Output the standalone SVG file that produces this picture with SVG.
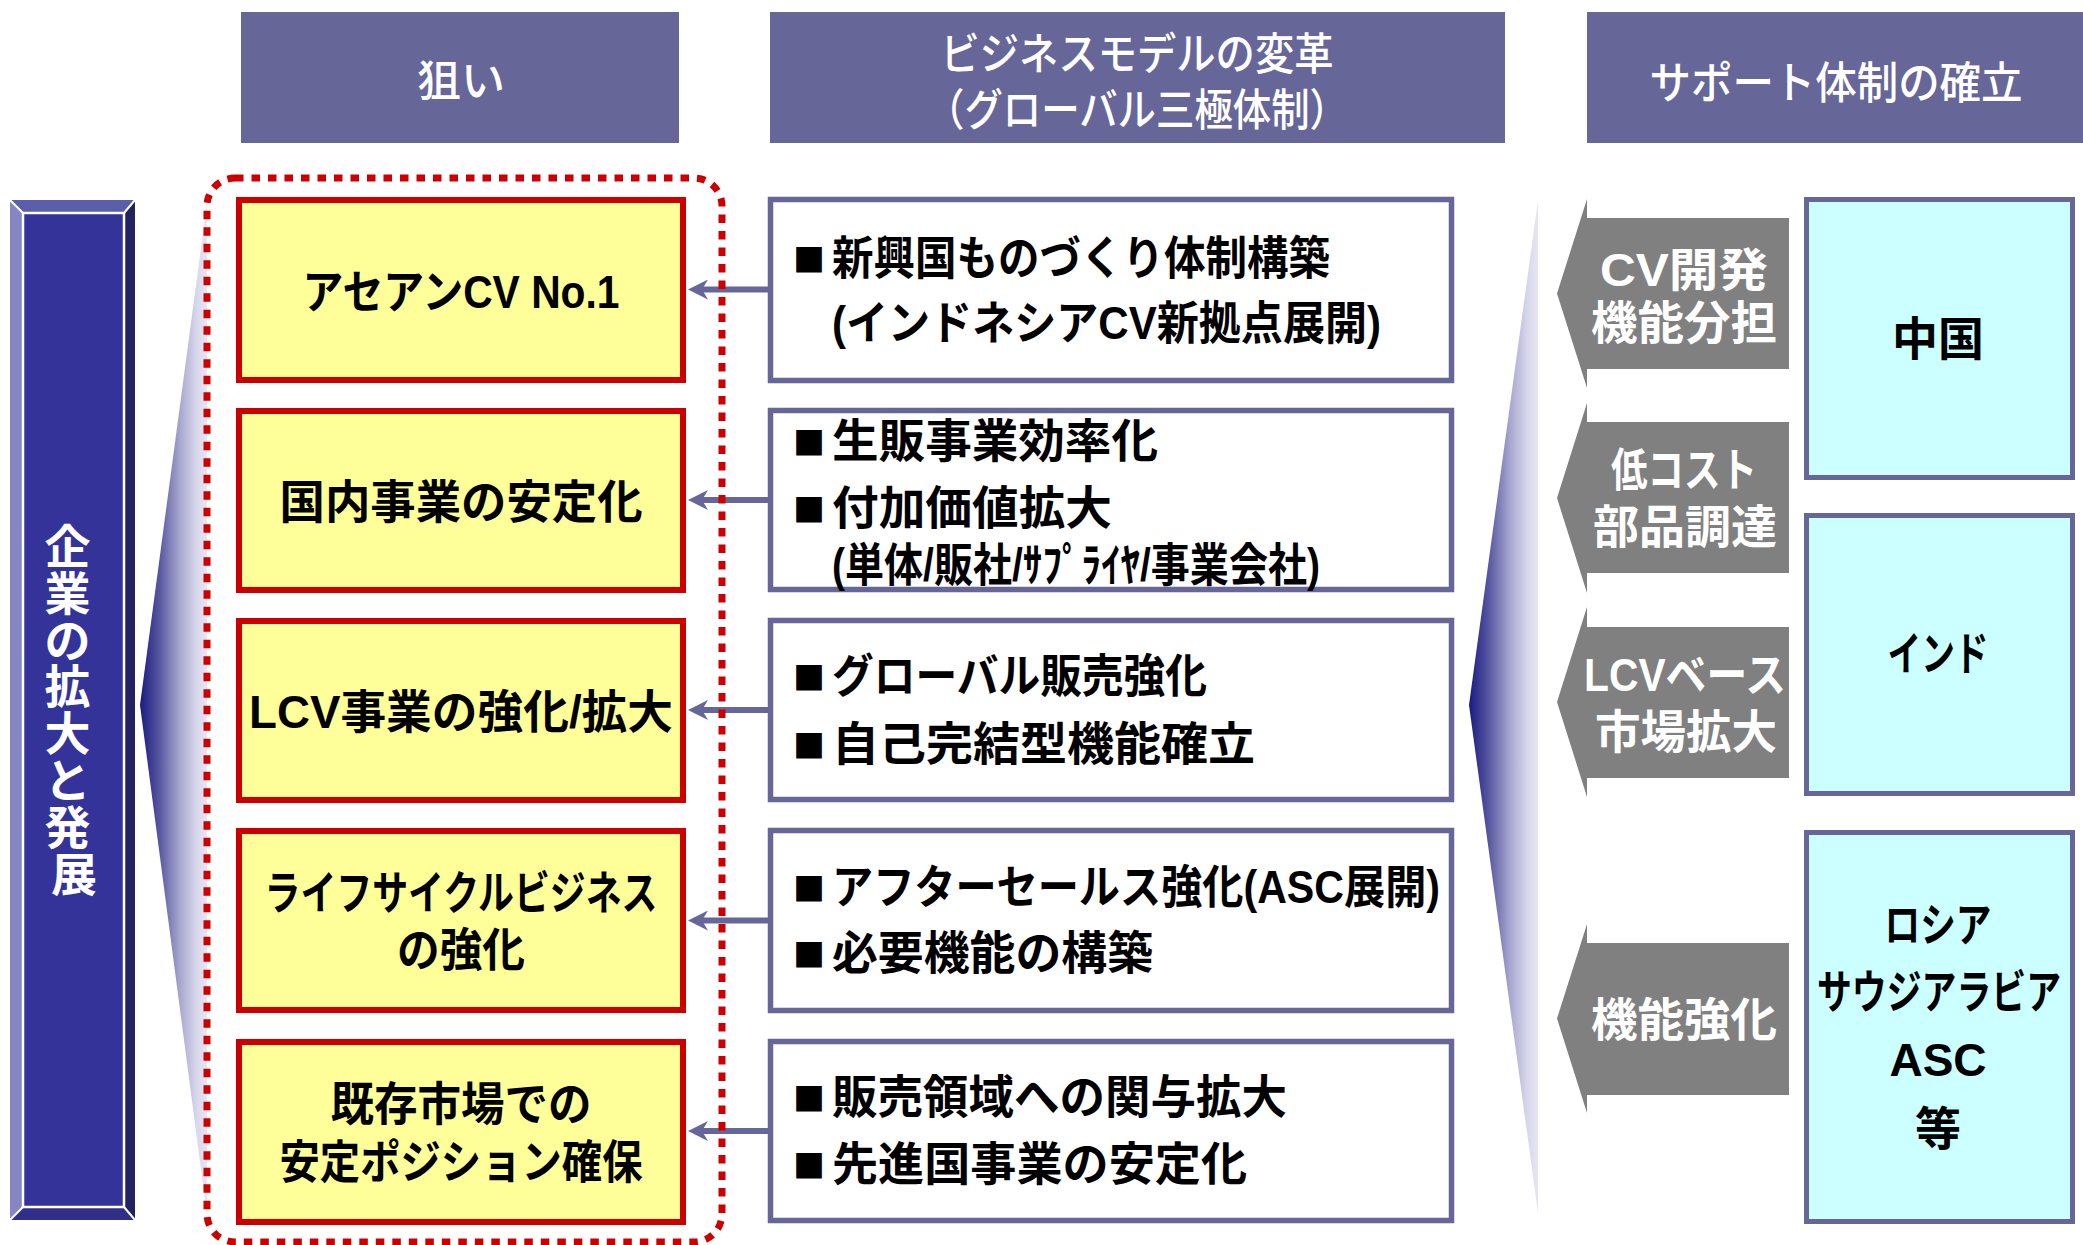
<svg xmlns="http://www.w3.org/2000/svg" width="2083" height="1245" viewBox="0 0 2083 1245">
<defs>
<style>
.hdr{fill:#666699}
.ht{fill:#fff;font-family:"Noto Sans CJK JP","Liberation Sans",sans-serif;font-weight:500;font-size:44px;text-anchor:middle;dominant-baseline:central}
.yb{fill:#ffff99;stroke:#cc0000;stroke-width:6}
.mb{fill:#fff;stroke:#666699;stroke-width:5.5}
.cb{fill:#ccffff;stroke:#666699;stroke-width:5}
.ga{fill:#808080}
.t{font-family:"Liberation Sans","Noto Sans CJK JP",sans-serif;font-weight:700;font-size:46px;dominant-baseline:central;fill:#000}
.sq{font-family:"Noto Sans CJK JP",sans-serif;font-size:32px;dominant-baseline:central;fill:#000}
.c{text-anchor:middle}
.w{fill:#fff}
.conn{stroke:#666699;stroke-width:6;fill:none;marker-end:url(#ah)}
.dot{fill:none;stroke:#cc0000;stroke-width:7;stroke-dasharray:8.5 8}
</style>
<linearGradient id="wl" gradientUnits="userSpaceOnUse" x1="140" y1="0" x2="207" y2="0">
<stop offset="0" stop-color="#1a1a80"/>
<stop offset="0.3" stop-color="#5a5aa2"/>
<stop offset="0.6" stop-color="#a8a8d0"/>
<stop offset="0.85" stop-color="#d8d8ec"/>
<stop offset="1" stop-color="#e6e6f3"/>
</linearGradient>
<linearGradient id="wr" gradientUnits="userSpaceOnUse" x1="1469" y1="0" x2="1538" y2="0">
<stop offset="0" stop-color="#1a1a80"/>
<stop offset="0.3" stop-color="#5a5aa2"/>
<stop offset="0.6" stop-color="#a8a8d0"/>
<stop offset="0.85" stop-color="#d8d8ec"/>
<stop offset="1" stop-color="#e6e6f3"/>
</linearGradient>
<marker id="ah" viewBox="0 0 20 20" refX="6" refY="10" markerWidth="20" markerHeight="20" markerUnits="userSpaceOnUse" orient="auto">
<path d="M0,0 L20,10 L0,20 L6,10 z" fill="#666699"/>
</marker>
</defs>
<rect width="2083" height="1245" fill="#fff"/>

<!-- headers -->
<g id="header-aim">
<rect class="hdr" x="241" y="12" width="438" height="131"/>
<text class="ht" x="461" y="78">狙い</text>
</g>
<g id="header-business">
<rect class="hdr" x="770" y="12" width="735" height="131"/>
<text class="ht" x="1137" y="51" font-size="40" textLength="393" lengthAdjust="spacingAndGlyphs">ビジネスモデルの変革</text>
<text class="ht" x="1137" y="107" font-size="40" textLength="422" lengthAdjust="spacingAndGlyphs">（グローバル三極体制）</text>
</g>
<g id="header-support">
<rect class="hdr" x="1587" y="12" width="496" height="131"/>
<text class="ht" x="1836" y="80" textLength="373" lengthAdjust="spacingAndGlyphs">サポート体制の確立</text>
</g>

<!-- wedges -->
<g id="wedge-left"><polygon points="207,203 140,705 207,1215" fill="url(#wl)"/></g>
<g id="wedge-right"><polygon points="1538,200 1469,705 1538,1213" fill="url(#wr)"/></g>

<!-- left bar -->
<g id="left-bar">
<polygon points="10,200 135,200 124,213 23,213" fill="#5b5eaa"/>
<polygon points="10,200 23,213 23,1207 10,1220" fill="#8686c4"/>
<polygon points="135,200 135,1220 124,1207 124,213" fill="#222260"/>
<polygon points="10,1220 23,1207 124,1207 135,1220" fill="#30308a"/>
<rect x="23" y="213" width="101" height="994" fill="#333399" stroke="#fff" stroke-width="2.5"/>
<path d="M10,200 L23,213 M135,200 L124,213 M10,1220 L23,1207 M135,1220 L124,1207" stroke="#fff" stroke-width="2"/>
<text class="t c w" font-size="40">
<tspan x="74" y="547">企</tspan>
<tspan x="74" y="594">業</tspan>
<tspan x="74" y="641">の</tspan>
<tspan x="74" y="687">拡</tspan>
<tspan x="74" y="734">大</tspan>
<tspan x="74" y="781">と</tspan>
<tspan x="74" y="828">発</tspan>
<tspan x="74" y="875">展</tspan>
</text>
</g>

<!-- connectors -->
<g id="connectors">
<line class="conn" x1="768" y1="289.5" x2="702" y2="289.5"/>
<line class="conn" x1="768" y1="500" x2="702" y2="500"/>
<line class="conn" x1="768" y1="710" x2="702" y2="710"/>
<line class="conn" x1="768" y1="920.5" x2="702" y2="920.5"/>
<line class="conn" x1="768" y1="1131" x2="702" y2="1131"/>
</g>

<!-- dotted group border -->
<g id="aim-group">
<rect class="dot" x="207" y="178" width="515" height="1064" rx="28" ry="28"/>
</g>

<!-- aim boxes -->
<g id="aim-1">
<rect class="yb" x="239" y="200" width="444" height="180"/>
<text class="t c" x="461" y="292" textLength="317" lengthAdjust="spacingAndGlyphs">アセアンCV No.1</text>
</g>
<g id="aim-2">
<rect class="yb" x="239" y="411" width="444" height="179"/>
<text class="t c" x="461" y="502" textLength="363" lengthAdjust="spacingAndGlyphs">国内事業の安定化</text>
</g>
<g id="aim-3">
<rect class="yb" x="239" y="621" width="444" height="179"/>
<text class="t c" x="461" y="712" textLength="424" lengthAdjust="spacingAndGlyphs">LCV事業の強化/拡大</text>
</g>
<g id="aim-4">
<rect class="yb" x="239" y="831" width="444" height="179"/>
<text class="t c" x="461" y="893" textLength="393" lengthAdjust="spacingAndGlyphs">ライフサイクルビジネス</text>
<text class="t c" x="461" y="950" textLength="128" lengthAdjust="spacingAndGlyphs">の強化</text>
</g>
<g id="aim-5">
<rect class="yb" x="239" y="1042" width="444" height="180"/>
<text class="t c" x="461" y="1104" textLength="261" lengthAdjust="spacingAndGlyphs">既存市場での</text>
<text class="t c" x="461" y="1162" textLength="363" lengthAdjust="spacingAndGlyphs">安定ポジション確保</text>
</g>

<!-- business model boxes -->
<g id="biz-1">
<rect class="mb" x="770.5" y="199.5" width="681" height="181"/>
<text class="sq" x="793" y="258">■</text>
<text class="t" x="832" y="258" textLength="498" lengthAdjust="spacingAndGlyphs">新興国ものづくり体制構築</text>
<text class="t" x="832" y="323" textLength="549" lengthAdjust="spacingAndGlyphs">(インドネシアCV新拠点展開)</text>
</g>
<g id="biz-2">
<rect class="mb" x="770.5" y="410.5" width="681" height="179"/>
<text class="sq" x="793" y="441">■</text>
<text class="t" x="832" y="441" textLength="326" lengthAdjust="spacingAndGlyphs">生販事業効率化</text>
<text class="sq" x="793" y="508">■</text>
<text class="t" x="832" y="508" textLength="280" lengthAdjust="spacingAndGlyphs">付加価値拡大</text>
<text class="t" x="832" y="565" font-size="38" textLength="488" lengthAdjust="spacingAndGlyphs">(単体/販社/ｻﾌﾟﾗｲﾔ/事業会社)</text>
</g>
<g id="biz-3">
<rect class="mb" x="770.5" y="620.5" width="681" height="179"/>
<text class="sq" x="793" y="676">■</text>
<text class="t" x="832" y="676" textLength="375" lengthAdjust="spacingAndGlyphs">グローバル販売強化</text>
<text class="sq" x="793" y="744">■</text>
<text class="t" x="832" y="744" textLength="423" lengthAdjust="spacingAndGlyphs">自己完結型機能確立</text>
</g>
<g id="biz-4">
<rect class="mb" x="770.5" y="830.5" width="681" height="180"/>
<text class="sq" x="793" y="887">■</text>
<text class="t" x="832" y="887" textLength="608" lengthAdjust="spacingAndGlyphs">アフターセールス強化(ASC展開)</text>
<text class="sq" x="793" y="953">■</text>
<text class="t" x="832" y="953" textLength="321" lengthAdjust="spacingAndGlyphs">必要機能の構築</text>
</g>
<g id="biz-5">
<rect class="mb" x="770.5" y="1041.5" width="681" height="179"/>
<text class="sq" x="793" y="1097">■</text>
<text class="t" x="832" y="1097" textLength="455" lengthAdjust="spacingAndGlyphs">販売領域への関与拡大</text>
<text class="sq" x="793" y="1164">■</text>
<text class="t" x="832" y="1164" textLength="415" lengthAdjust="spacingAndGlyphs">先進国事業の安定化</text>
</g>

<!-- support arrows -->
<g id="support-1">
<polygon class="ga" points="1557,293.5 1587,199 1587,218 1789,218 1789,369 1587,369 1587,388"/>
<text class="t c w" x="1684" y="270" textLength="168" lengthAdjust="spacingAndGlyphs">CV開発</text>
<text class="t c w" x="1684" y="323" textLength="186" lengthAdjust="spacingAndGlyphs">機能分担</text>
</g>
<g id="support-2">
<polygon class="ga" points="1557,498 1587,403 1587,422 1789,422 1789,573 1587,573 1587,593"/>
<text class="t c w" x="1684" y="470" textLength="146" lengthAdjust="spacingAndGlyphs">低コスト</text>
<text class="t c w" x="1685" y="527" textLength="184" lengthAdjust="spacingAndGlyphs">部品調達</text>
</g>
<g id="support-3">
<polygon class="ga" points="1557,702 1587,607 1587,627 1789,627 1789,778 1587,778 1587,797"/>
<text class="t c w" x="1685" y="675" textLength="202" lengthAdjust="spacingAndGlyphs">LCVベース</text>
<text class="t c w" x="1686" y="732" textLength="182" lengthAdjust="spacingAndGlyphs">市場拡大</text>
</g>
<g id="support-4">
<polygon class="ga" points="1557,1018.5 1587,924 1587,943 1789,943 1789,1095 1587,1095 1587,1113"/>
<text class="t c w" x="1684" y="1020" textLength="186" lengthAdjust="spacingAndGlyphs">機能強化</text>
</g>

<!-- regions -->
<g id="region-china">
<rect class="cb" x="1806.5" y="199.5" width="266" height="278"/>
<text class="t c" x="1938" y="339" font-size="44">中国</text>
</g>
<g id="region-india">
<rect class="cb" x="1806.5" y="515.5" width="266" height="278"/>
<text class="t c" x="1938" y="654" font-size="44" textLength="101" lengthAdjust="spacingAndGlyphs">インド</text>
</g>
<g id="region-others">
<rect class="cb" x="1806.5" y="832.5" width="266" height="389"/>
<text class="t c" x="1938" y="925" font-size="44" textLength="107" lengthAdjust="spacingAndGlyphs">ロシア</text>
<text class="t c" x="1939" y="992" font-size="42" textLength="244" lengthAdjust="spacingAndGlyphs">サウジアラビア</text>
<text class="t c" x="1938" y="1060" font-size="44">ASC</text>
<text class="t c" x="1938" y="1129" font-size="44">等</text>
</g>
</svg>
